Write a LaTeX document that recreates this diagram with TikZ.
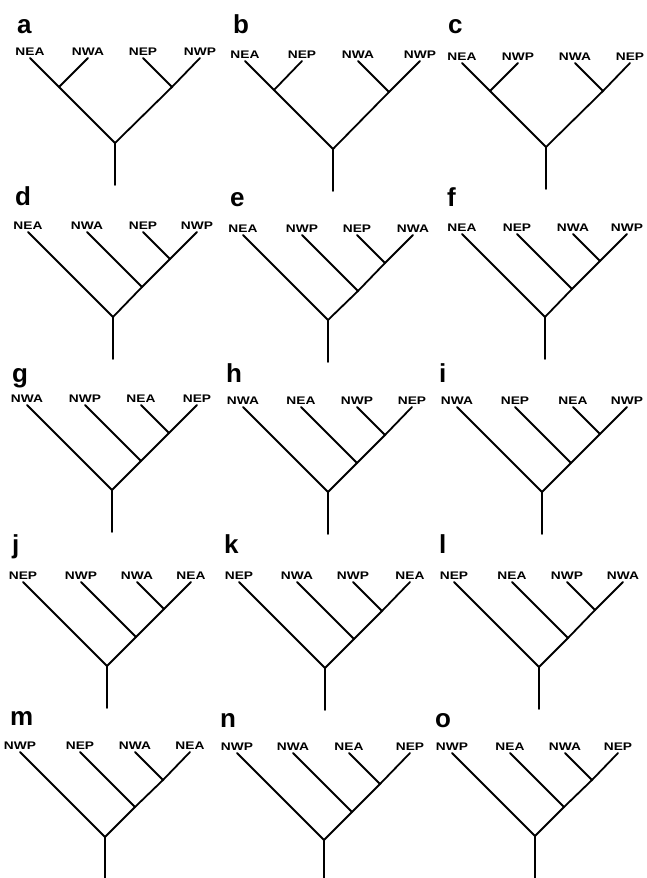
\documentclass[tikz,border=0pt]{standalone}
\usepackage{fontspec}
\setmainfont{Liberation Sans}
\newfontfamily\labfont{Liberation Sans}[FakeStretch=1.25]
\usetikzlibrary{calc}
\tikzset{
  branch/.style={line width=1.8pt, line cap=round, line join=round},
  taxon/.style={font=\labfont\bfseries\fontsize{11}{12}\selectfont, inner sep=0pt, anchor=base},
  panellabel/.style={font=\bfseries\fontsize{26}{28}\selectfont, inner sep=0pt, anchor=base west},
}
\newcommand{\cladejoin}[3]{\path let \p1=(#2), \p2=(#3) in coordinate (#1) at ({round((\x1+\x2)/2)},{round(\y1-(\x2-\x1)/2)});}
\newcommand{\cladetips}[9]{%
  \node[panellabel] (#1let) at (#3,#4) {#2};
  \coordinate (#1t1) at (#6,#5);
  \coordinate (#1t2) at (#7,#5);
  \coordinate (#1t3) at (#8,#5);
  \coordinate (#1t4) at (#9,#5);
  \cladejoin{#1r}{#1t1}{#1t4}
  \coordinate (#1s) at ($(#1r)+(0,42)$);
  \draw[branch] (#1r) -- (#1s);
}
\newcommand{\cladenames}[5]{%
  \node[taxon] (#1n1) at ($(#1t1)+(0,-3)$) {#2};
  \node[taxon] (#1n2) at ($(#1t2)+(0,-3)$) {#3};
  \node[taxon] (#1n3) at ($(#1t3)+(0,-3)$) {#4};
  \node[taxon] (#1n4) at ($(#1t4)+(0,-3)$) {#5};
}
\newcommand{\balanced}[1]{%
  \cladejoin{#1a}{#1t1}{#1t2}
  \cladejoin{#1b}{#1t3}{#1t4}
  \draw[branch] (#1t1) -- (#1a) -- (#1r) -- (#1b) -- (#1t4);
  \draw[branch] (#1t2) -- (#1a);
  \draw[branch] (#1t3) -- (#1b);
}
\newcommand{\pectinate}[1]{%
  \cladejoin{#1a}{#1t2}{#1t4}
  \cladejoin{#1b}{#1t3}{#1t4}
  \draw[branch] (#1t1) -- (#1r) -- (#1a) -- (#1b) -- (#1t4);
  \draw[branch] (#1t2) -- (#1a);
  \draw[branch] (#1t3) -- (#1b);
}
\begin{document}
\begin{tikzpicture}[x=1pt,y=-1pt]
\useasboundingbox (0,0) rectangle (647,878);
\fill[white] (0,0) rectangle (647,878);
% row 1
\cladetips{a}{a}{17}{33}{58}{30}{88}{143}{200}
\cladenames{a}{NEA}{NWA}{NEP}{NWP}\balanced{a}
\cladetips{b}{b}{233}{33}{61}{245}{302}{358}{420}
\cladenames{b}{NEA}{NEP}{NWA}{NWP}\balanced{b}
\cladetips{c}{c}{448}{33}{63}{462}{518}{575}{630}
\cladenames{c}{NEA}{NWP}{NWA}{NEP}\balanced{c}
% row 2
\cladetips{d}{d}{15}{205}{232}{28}{87}{143}{197}
\cladenames{d}{NEA}{NWA}{NEP}{NWP}\pectinate{d}
\cladetips{e}{e}{230}{206}{235}{243}{302}{357}{413}
\cladenames{e}{NEA}{NWP}{NEP}{NWA}\pectinate{e}
\cladetips{f}{f}{447}{206}{234}{462}{517}{573}{627}
\cladenames{f}{NEA}{NEP}{NWA}{NWP}\pectinate{f}
% row 3
\cladetips{g}{g}{12}{382}{405}{27}{85}{141}{197}
\cladenames{g}{NWA}{NWP}{NEA}{NEP}\pectinate{g}
\cladetips{h}{h}{226}{382}{407}{243}{301}{357}{412}
\cladenames{h}{NWA}{NEA}{NWP}{NEP}\pectinate{h}
\cladetips{i}{i}{439}{382}{407}{457}{515}{573}{627}
\cladenames{i}{NWA}{NEP}{NEA}{NWP}\pectinate{i}
% row 4
\cladetips{j}{j}{12}{553}{582}{23}{81}{137}{191}
\cladenames{j}{NEP}{NWP}{NWA}{NEA}\pectinate{j}
\cladetips{k}{k}{224}{553}{582}{239}{297}{353}{410}
\cladenames{k}{NEP}{NWA}{NWP}{NEA}\pectinate{k}
\cladetips{l}{l}{439}{553}{582}{454}{512}{567}{623}
\cladenames{l}{NEP}{NEA}{NWP}{NWA}\pectinate{l}
% row 5
\cladetips{m}{m}{10}{725}{752}{20}{80}{135}{190}
\cladenames{m}{NWP}{NEP}{NWA}{NEA}\pectinate{m}
\cladetips{n}{n}{220}{727}{753}{237}{293}{349}{410}
\cladenames{n}{NWP}{NWA}{NEA}{NEP}\pectinate{n}
\cladetips{o}{o}{435}{727}{753}{452}{510}{565}{618}
\cladenames{o}{NWP}{NEA}{NWA}{NEP}\pectinate{o}
\end{tikzpicture}
\end{document}
